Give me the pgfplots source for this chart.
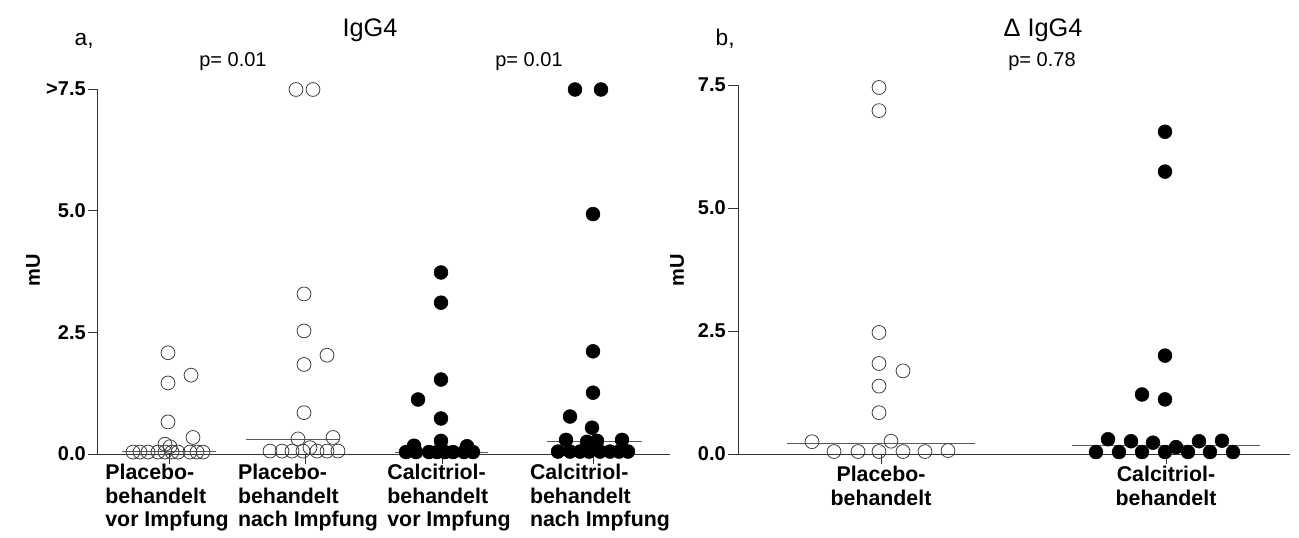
\documentclass[border=0pt]{standalone}
\usepackage{pgfplots}
\pgfplotsset{compat=1.18}
\usepackage{fontspec}
\setmainfont{Liberation Sans}

\pgfplotsset{
  dotstyle/.style={
    scale only axis, anchor=south west, clip=false,
    ymin=0, ymax=7.5,
    axis x line*=bottom, axis y line*=left,
    axis line style={black!80, line width=0.75pt},
    tick style={black!80, line width=0.75pt},
    tick align=outside, major tick length=7.5pt,
    ytick={0,2.5,5,7.5},
    yticklabel style={font=\fontsize{15}{17}\selectfont\bfseries, inner sep=1.5pt},
    xticklabel style={font=\fontsize{16}{17.5}\selectfont\bfseries, inner sep=1.5pt},
  },
  opn/.style={only marks, mark=o, mark size=5.2pt, mark options={draw=black!75, line width=0.6pt}},
  fld/.style={only marks, mark=*, mark size=5.2pt, mark options={fill=black, draw=black}},
  med/.style={no marks, draw=black!65, line width=0.75pt},
}
\tikzset{
  catlab/.style={anchor=north, align=left, inner sep=1pt, yshift=-6.5pt, font=\fontsize{16}{17.5}\selectfont\bfseries},
}

\begin{document}
\begin{tikzpicture}[x=0.75pt,y=0.75pt]
\useasboundingbox (0,0) rectangle (1299,537);

% ---------- panel a ----------
\begin{axis}[dotstyle,
  at={(73.5pt,62.25pt)}, width=429pt, height=273.75pt,
  xmin=98, xmax=670,
  xtick={169,305,442,593},
  xticklabels={},
  yticklabels={0.0,2.5,5.0,>7.5},
]
% group 1: placebo before
\addplot[opn] coordinates {(168,2.08) (191,1.62) (168,1.46) (168,0.66) (193,0.34) (165,0.20) (170,0.15)
 (133,0.04) (140,0.04) (148,0.04) (158,0.04) (165,0.04) (172,0.04) (178,0.04) (190,0.04) (197,0.04) (203,0.04)};
\addplot[med] coordinates {(122,0.05) (216,0.05)};
% group 2: placebo after
\addplot[opn] coordinates {(296,7.49) (313,7.49) (304,3.29) (304,2.53) (327,2.03) (304,1.84) (304,0.85) (298,0.31) (333,0.34) (310,0.13)
 (270,0.06) (282,0.06) (292,0.06) (303,0.06) (317,0.06) (327,0.06) (338,0.06)};
\addplot[med] coordinates {(246,0.29) (340,0.29)};
% group 3: calcitriol before
\addplot[med] coordinates {(395,0.03) (488,0.03)};
\addplot[fld] coordinates {(441,3.73) (441,3.11) (441,1.53) (418,1.12) (441,0.73) (414,0.17) (441,0.27) (467,0.16)
 (406,0.04) (416,0.04) (429,0.04) (437,0.04) (445,0.04) (453,0.04) (464,0.04) (473,0.04)};
% group 4: calcitriol after
\addplot[med] coordinates {(547,0.25) (642,0.25)};
\addplot[fld] coordinates {(575,7.49) (601,7.49) (593,4.93) (593,2.11) (593,1.26) (570,0.77) (592,0.54) (566,0.29) (587,0.25) (597,0.27) (622,0.29)
 (558,0.05) (570,0.05) (580,0.05) (589,0.05) (600,0.05) (610,0.05) (619,0.05) (628,0.05)};
% category labels
\node[catlab] at (axis cs:167,0) {Placebo-\\behandelt\\vor Impfung};
\node[catlab] at (axis cs:308,0) {Placebo-\\behandelt\\nach Impfung};
\node[catlab] at (axis cs:449,0) {Calcitriol-\\behandelt\\vor Impfung};
\node[catlab] at (axis cs:600,0) {Calcitriol-\\behandelt\\nach Impfung};
\end{axis}

% ---------- panel b ----------
\begin{axis}[dotstyle,
  at={(553.5pt,62.25pt)}, width=414pt, height=276.75pt,
  xmin=738, xmax=1290,
  xtick={881,1166},
  xticklabels={{Placebo-\\behandelt},{Calcitriol-\\behandelt}},
  xticklabel style={align=center},
  yticklabels={0.0,2.5,5.0,7.5},
]
\addplot[opn] coordinates {(879,7.45) (879,6.98) (879,2.47) (879,1.84) (903,1.69) (879,1.38) (879,0.84) (812,0.25) (891,0.26)
 (834,0.05) (858,0.05) (879,0.05) (903,0.05) (925,0.05) (948,0.07)};
\addplot[med] coordinates {(787,0.22) (975,0.22)};
\addplot[med] coordinates {(1072,0.18) (1260,0.18)};
\addplot[fld] coordinates {(1165,6.55) (1165,5.74) (1165,2.00) (1142,1.21) (1165,1.11) (1108,0.30) (1131,0.26) (1153,0.23) (1176,0.14) (1199,0.26) (1222,0.27)
 (1096,0.04) (1119,0.04) (1142,0.04) (1165,0.04) (1188,0.04) (1210,0.04) (1233,0.04)};
\end{axis}

% ---------- texts ----------
\node[rotate=90, font=\fontsize{15}{18}\selectfont\bfseries] at (33,267) {mU};
\node[rotate=90, font=\fontsize{15}{18}\selectfont\bfseries] at (677,267) {mU};
\node[anchor=base west, font=\fontsize{17}{20}\selectfont] at (70,492) {a,};
\node[anchor=base west, font=\fontsize{17}{20}\selectfont] at (711,492) {b,};
\node[anchor=base, font=\fontsize{19}{21}\selectfont] at (370,500) {IgG4};
\node[anchor=base, font=\fontsize{19}{21}\selectfont] at (1043,500) {Δ IgG4};
\node[anchor=base, font=\fontsize{15}{17}\selectfont] at (233,470) {p= 0.01};
\node[anchor=base, font=\fontsize{15}{17}\selectfont] at (529,470) {p= 0.01};
\node[anchor=base, font=\fontsize{15}{17}\selectfont] at (1042,470) {p= 0.78};
\end{tikzpicture}
\end{document}
